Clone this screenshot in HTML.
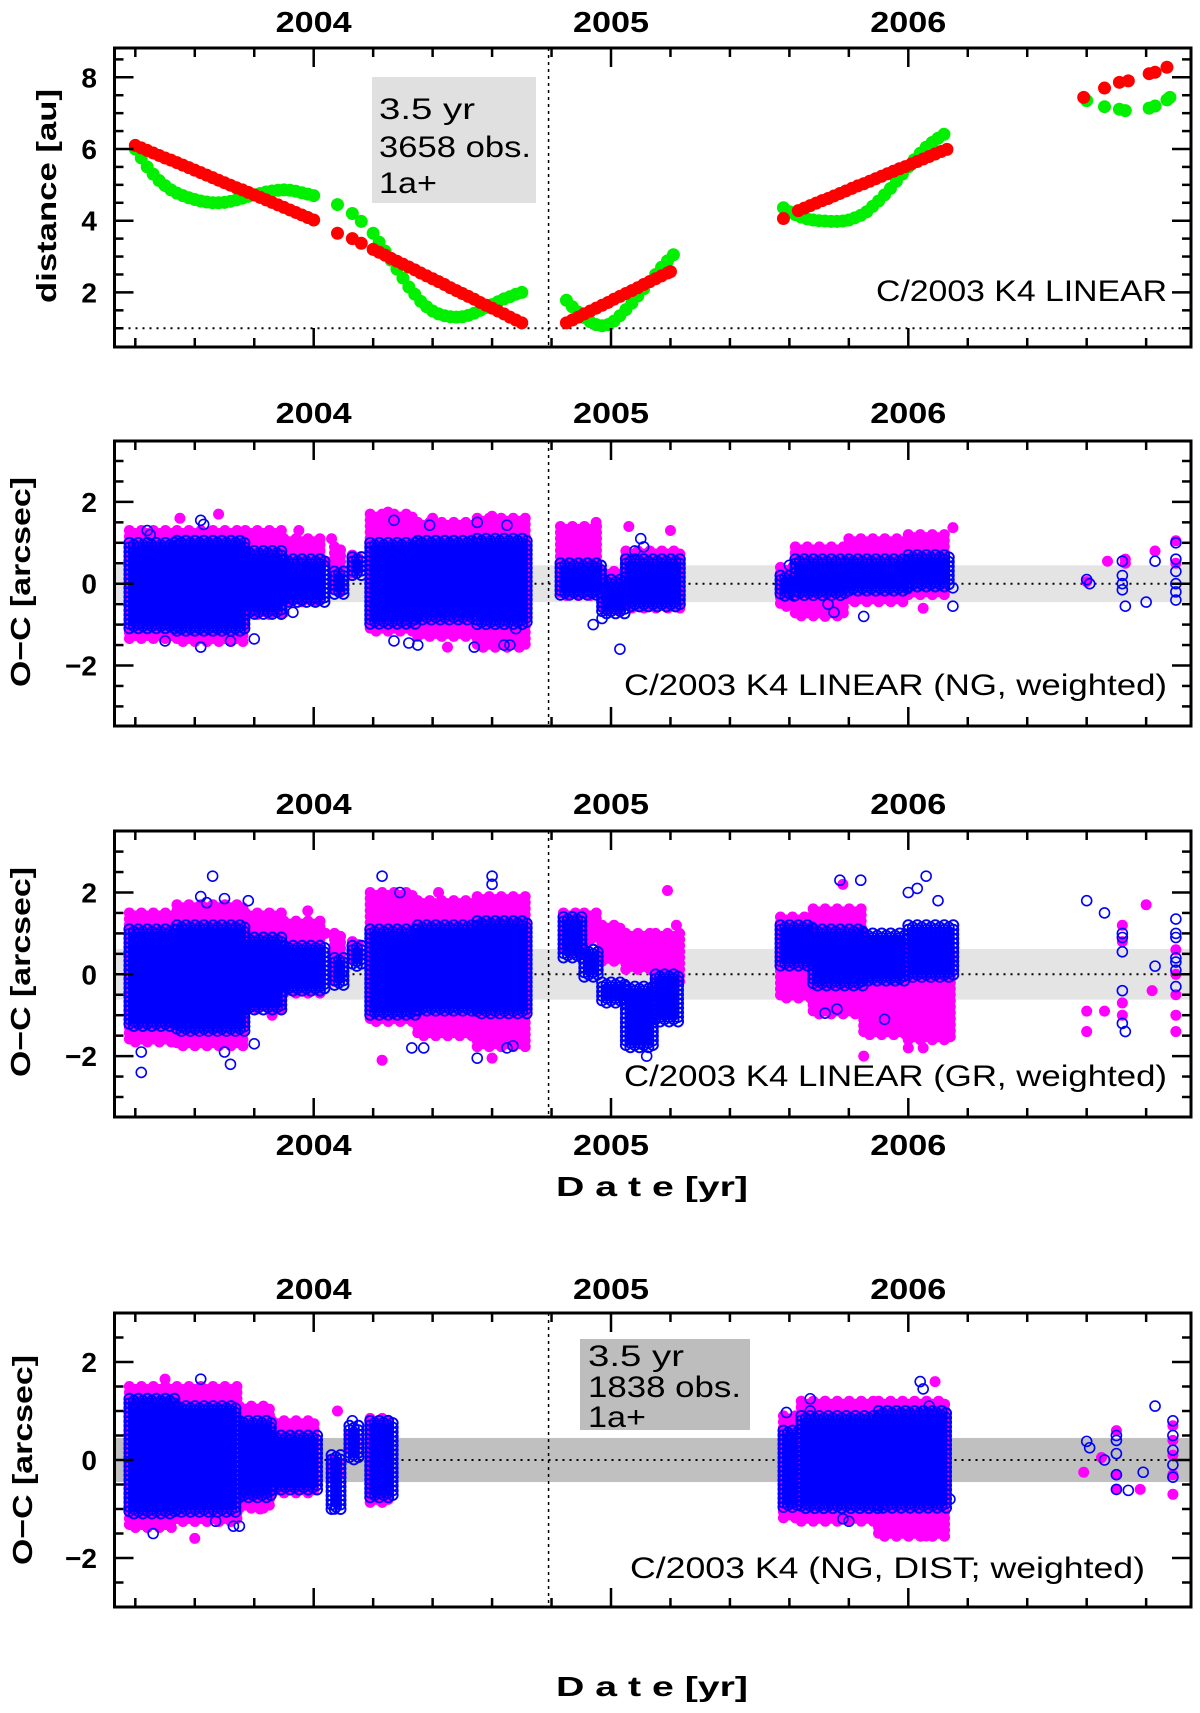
<!DOCTYPE html>
<html><head><meta charset="utf-8"><style>
html,body{margin:0;padding:0;background:#fff}
svg{display:block}
text{font-family:"Liberation Sans",sans-serif;fill:#000}
.yr{font-weight:bold;font-size:29px}
.lab{font-size:30px}
.tl{font-size:28px;font-weight:bold}
.tt{font-weight:bold;font-size:28px}
</style></head><body>
<svg id="fig" width="1200" height="1713" viewBox="0 0 1200 1713" xmlns="http://www.w3.org/2000/svg">
<g id="under"></g>
<g id="marks"></g>
<g id="axes"></g>
<g>
<text class="yr" x="313.7" y="32" text-anchor="middle" textLength="76" lengthAdjust="spacingAndGlyphs">2004</text>
<text class="yr" x="611" y="32" text-anchor="middle" textLength="76" lengthAdjust="spacingAndGlyphs">2005</text>
<text class="yr" x="908.3" y="32" text-anchor="middle" textLength="76" lengthAdjust="spacingAndGlyphs">2006</text>
<text class="yr" x="313.7" y="423" text-anchor="middle" textLength="76" lengthAdjust="spacingAndGlyphs">2004</text>
<text class="yr" x="611" y="423" text-anchor="middle" textLength="76" lengthAdjust="spacingAndGlyphs">2005</text>
<text class="yr" x="908.3" y="423" text-anchor="middle" textLength="76" lengthAdjust="spacingAndGlyphs">2006</text>
<text class="yr" x="313.7" y="814" text-anchor="middle" textLength="76" lengthAdjust="spacingAndGlyphs">2004</text>
<text class="yr" x="611" y="814" text-anchor="middle" textLength="76" lengthAdjust="spacingAndGlyphs">2005</text>
<text class="yr" x="908.3" y="814" text-anchor="middle" textLength="76" lengthAdjust="spacingAndGlyphs">2006</text>
<text class="yr" x="313.7" y="1155" text-anchor="middle" textLength="76" lengthAdjust="spacingAndGlyphs">2004</text>
<text class="yr" x="611" y="1155" text-anchor="middle" textLength="76" lengthAdjust="spacingAndGlyphs">2005</text>
<text class="yr" x="908.3" y="1155" text-anchor="middle" textLength="76" lengthAdjust="spacingAndGlyphs">2006</text>
<text class="yr" x="313.7" y="1299" text-anchor="middle" textLength="76" lengthAdjust="spacingAndGlyphs">2004</text>
<text class="yr" x="611" y="1299" text-anchor="middle" textLength="76" lengthAdjust="spacingAndGlyphs">2005</text>
<text class="yr" x="908.3" y="1299" text-anchor="middle" textLength="76" lengthAdjust="spacingAndGlyphs">2006</text>
</g>
<text class="tt" x="652" y="1196" text-anchor="middle" textLength="192" lengthAdjust="spacingAndGlyphs">D a t e [yr]</text>
<text class="tt" x="652" y="1696" text-anchor="middle" textLength="192" lengthAdjust="spacingAndGlyphs">D a t e [yr]</text>
<text class="tt" transform="translate(56,196) rotate(-90)" text-anchor="middle" textLength="214" lengthAdjust="spacingAndGlyphs">distance [au]</text>
<text class="tt" transform="translate(30,582) rotate(-90)" text-anchor="middle" textLength="210" lengthAdjust="spacingAndGlyphs">O−C [arcsec]</text>
<text class="tt" transform="translate(30,972) rotate(-90)" text-anchor="middle" textLength="210" lengthAdjust="spacingAndGlyphs">O−C [arcsec]</text>
<text class="tt" transform="translate(32,1460) rotate(-90)" text-anchor="middle" textLength="210" lengthAdjust="spacingAndGlyphs">O−C [arcsec]</text>
<text class="lab" x="1167" y="301" text-anchor="end" textLength="291" lengthAdjust="spacingAndGlyphs">C/2003 K4 LINEAR</text>
<text class="lab" x="1167" y="695" text-anchor="end" textLength="543" lengthAdjust="spacingAndGlyphs">C/2003 K4 LINEAR (NG, weighted)</text>
<text class="lab" x="1167" y="1086" text-anchor="end" textLength="543" lengthAdjust="spacingAndGlyphs">C/2003 K4 LINEAR (GR, weighted)</text>
<text class="lab" x="1145" y="1578" text-anchor="end" textLength="515" lengthAdjust="spacingAndGlyphs">C/2003 K4 (NG, DIST; weighted)</text>
<g>
<rect x="372" y="77" width="164" height="126" fill="#e0e0e0"/>
<text class="lab" x="379" y="119" textLength="96" lengthAdjust="spacingAndGlyphs">3.5 yr</text>
<text class="lab" x="379" y="157" textLength="152" lengthAdjust="spacingAndGlyphs">3658 obs.</text>
<text class="lab" x="379" y="193" textLength="58" lengthAdjust="spacingAndGlyphs">1a+</text>
</g>
<g>
<rect x="580" y="1339" width="170" height="91" fill="#bdbdbd"/>
<text class="lab" x="588" y="1366" textLength="96" lengthAdjust="spacingAndGlyphs">3.5 yr</text>
<text class="lab" x="588" y="1397" textLength="153" lengthAdjust="spacingAndGlyphs">1838 obs.</text>
<text class="lab" x="588" y="1427" textLength="58" lengthAdjust="spacingAndGlyphs">1a+</text>
</g>
</svg>
<script>
const greenT=[2003.40,2003.42,2003.44,2003.46,2003.48,2003.50,2003.52,2003.54,2003.56,2003.58,2003.60,2003.62,2003.64,2003.66,2003.68,2003.70,2003.72,2003.74,2003.76,2003.78,2003.80,2003.82,2003.84,2003.86,2003.88,2003.90,2003.92,2003.94,2003.96,2003.98,2004.00,
2004.08,2004.13,2004.16,
2004.20,2004.22,2004.24,2004.26,2004.28,2004.30,2004.32,2004.34,2004.36,2004.38,2004.40,2004.42,2004.44,2004.46,2004.48,2004.50,2004.52,2004.54,2004.56,2004.58,2004.60,2004.62,2004.64,2004.66,2004.68,2004.70,
2004.85,2004.87,2004.89,2004.91,2004.93,2004.95,2004.97,2004.99,2005.01,2005.03,2005.05,2005.07,2005.09,2005.11,2005.13,2005.15,2005.17,2005.19,2005.21,
2005.58,2005.60,2005.62,2005.64,2005.66,2005.68,2005.70,2005.72,2005.74,2005.76,2005.78,2005.80,2005.82,2005.84,2005.86,2005.88,2005.90,2005.92,2005.94,2005.96,2005.98,2006.00,2006.02,2006.04,2006.06,2006.08,2006.10,2006.12,
2006.60,2006.66,2006.71,2006.73,2006.81,2006.83,2006.87,2006.88];
const greenV=[6.0,5.75,5.5,5.3,5.12,4.98,4.86,4.77,4.7,4.64,4.59,4.55,4.52,4.5,4.5,4.51,4.54,4.58,4.63,4.68,4.72,4.76,4.8,4.83,4.85,4.86,4.85,4.82,4.78,4.74,4.7,
4.45,4.2,3.98,
3.65,3.4,3.15,2.9,2.65,2.4,2.15,1.95,1.75,1.6,1.48,1.4,1.35,1.32,1.31,1.32,1.36,1.42,1.5,1.58,1.66,1.74,1.82,1.88,1.95,2.0,
1.78,1.6,1.45,1.3,1.18,1.1,1.07,1.1,1.2,1.35,1.52,1.7,1.9,2.1,2.3,2.5,2.7,2.88,3.05,
4.36,4.25,4.17,4.1,4.05,4.02,4.0,3.99,3.98,3.98,3.99,4.02,4.08,4.15,4.25,4.4,4.55,4.72,4.9,5.1,5.3,5.5,5.7,5.88,6.05,6.18,6.3,6.41,
7.35,7.18,7.11,7.07,7.14,7.2,7.37,7.44];
const redT=[2003.40,2003.42,2003.44,2003.46,2003.48,2003.50,2003.52,2003.54,2003.56,2003.58,2003.60,2003.62,2003.64,2003.66,2003.68,2003.70,2003.72,2003.74,2003.76,2003.78,2003.80,2003.82,2003.84,2003.86,2003.88,2003.90,2003.92,2003.94,2003.96,2003.98,2004.00,
2004.08,2004.13,2004.16,
2004.20,2004.22,2004.24,2004.26,2004.28,2004.30,2004.32,2004.34,2004.36,2004.38,2004.40,2004.42,2004.44,2004.46,2004.48,2004.50,2004.52,2004.54,2004.56,2004.58,2004.60,2004.62,2004.64,2004.66,2004.68,2004.70,
2004.85,2004.87,2004.89,2004.91,2004.93,2004.95,2004.97,2004.99,2005.01,2005.03,2005.05,2005.07,2005.09,2005.11,2005.13,2005.15,2005.17,2005.19,2005.20,
2005.58,2005.63,2005.65,2005.67,2005.69,2005.71,2005.73,2005.75,2005.77,2005.79,2005.81,2005.83,2005.85,2005.87,2005.89,2005.91,2005.93,2005.95,2005.97,2005.99,2006.01,2006.03,2006.05,2006.07,2006.09,2006.11,2006.13,
2006.59,2006.66,2006.71,2006.74,2006.81,2006.83,2006.87];
const redV=[6.10,6.03,5.96,5.89,5.82,5.75,5.69,5.62,5.55,5.48,5.41,5.34,5.27,5.2,5.13,5.06,4.99,4.92,4.86,4.79,4.72,4.65,4.58,4.51,4.44,4.37,4.3,4.23,4.16,4.09,4.02,
3.65,3.5,3.37,
3.2,3.12,3.04,2.95,2.87,2.79,2.71,2.63,2.54,2.46,2.38,2.3,2.22,2.13,2.05,1.97,1.89,1.81,1.72,1.64,1.56,1.48,1.4,1.31,1.23,1.15,
1.15,1.23,1.31,1.4,1.48,1.56,1.64,1.72,1.81,1.89,1.97,2.05,2.13,2.22,2.3,2.38,2.46,2.54,2.58,
4.06,4.28,4.35,4.42,4.49,4.56,4.62,4.69,4.76,4.83,4.9,4.97,5.03,5.1,5.17,5.24,5.31,5.38,5.45,5.51,5.58,5.65,5.72,5.79,5.86,5.93,5.99,
7.44,7.7,7.86,7.9,8.1,8.14,8.28];
const p1YTicks=[2,4,6,8];

const p2BandStart=[2003.38,2003.54,2003.77,2003.90,2004.07,2004.13,2004.19,2004.35,2004.55,2004.83,2004.97,2005.05,2005.57,2005.62,2005.80,2006.00];
const p2BandEnd  =[2003.54,2003.77,2003.90,2004.04,2004.10,2004.17,2004.35,2004.55,2004.72,2004.97,2005.05,2005.24,2005.62,2005.80,2006.00,2006.14];
const p2BlueLo=[-1.1,-1.2,-0.75,-0.45,-0.25,0.2,-1.0,-0.9,-1.0,-0.3,-0.75,-0.6,-0.3,-0.3,-0.2,-0.1];
const p2BlueHi=[1.0,1.05,0.8,0.6,0.3,0.65,1.0,1.05,1.1,0.5,0.1,0.6,0.2,0.6,0.6,0.7];
const p2MagLo=[-1.4,-1.45,-0.8,-0.5,-0.2,0.2,-1.2,-1.3,-1.6,-0.3,-0.7,-0.6,-0.6,-0.8,-0.5,-0.3];
const p2MagHi=[1.3,1.3,1.3,1.1,0.9,0.7,1.7,1.5,1.6,1.4,0.3,0.8,0.4,0.9,1.1,1.2];
const p2BlueOutT=[2003.62,2003.63,2003.44,2003.45,2003.50,2003.62,2003.72,2003.80,2003.93,2004.27,2004.32,2004.35,2004.27,2004.39,2004.54,2004.64,2004.66,2004.55,2004.65,2004.68,2004.69,2004.70,2004.94,2004.97,2005.03,2005.10,2005.08,2005.11,2005.05,2005.60,2005.62,2005.75,2005.73,2005.85,2006.15,2006.15,2006.60,2006.61,2006.72,2006.72,2006.72,2006.72,2006.73,2006.80,2006.83,2006.90,2006.90,2006.90,2006.90,2006.90,2006.90];
const p2BlueOutV=[1.55,1.45,1.3,1.2,-1.4,-1.55,-1.4,-1.35,-0.7,-1.4,-1.45,-1.5,1.55,1.43,-1.55,-1.5,-1.5,1.5,1.43,-1.1,-0.4,0.0,-1.0,-0.85,-1.6,1.1,0.8,0.9,0.6,0.45,0.0,-0.7,-0.5,-0.8,-0.55,-0.1,0.1,0.0,0.55,0.2,0.0,-0.15,-0.55,-0.45,0.55,1.0,0.6,0.3,0.0,-0.2,-0.4];
const p2MagOutT=[2003.55,2003.68,2003.90,2003.95,2004.04,2004.06,2004.25,2004.40,2004.45,2004.60,2004.66,2004.95,2005.06,2005.20,2005.65,2005.72,2006.05,2006.15,2006.60,2006.67,2006.73,2006.73,2006.83,2006.90,2006.90];
const p2MagOutV=[1.6,1.7,-0.7,1.3,0.55,1.1,1.75,1.6,-1.55,1.65,-1.2,1.5,1.4,1.3,-0.7,-0.8,-0.6,1.37,0.05,0.55,0.5,0.6,0.8,1.05,0.5];

const p3BandStart=[2003.38,2003.54,2003.77,2003.90,2004.07,2004.13,2004.19,2004.35,2004.55,2004.84,2004.91,2004.97,2005.05,2005.15,2005.57,2005.68,2005.85,2006.00];
const p3BandEnd  =[2003.54,2003.77,2003.90,2004.04,2004.10,2004.17,2004.35,2004.55,2004.72,2004.91,2004.97,2005.05,2005.15,2005.24,2005.68,2005.85,2006.00,2006.16];
const p3BlueLo=[-1.3,-1.4,-0.9,-0.45,-0.3,0.2,-1.0,-0.9,-1.0,0.4,-0.1,-0.7,-1.8,-1.2,0.2,-0.3,-0.2,-0.1];
const p3BlueHi=[1.1,1.2,0.9,0.7,0.4,0.7,1.1,1.2,1.3,1.4,0.6,-0.2,-0.3,0.0,1.2,1.1,1.0,1.2];
const p3MagLo=[-1.7,-1.8,-0.9,-0.5,-0.2,0.3,-1.2,-1.5,-1.8,0.5,0.8,0.3,0.1,-0.2,-0.6,-1.0,-1.5,-1.6];
const p3MagHi=[1.5,1.7,1.5,1.3,1.0,0.8,2.0,1.8,1.9,1.5,1.5,1.2,1.0,1.0,1.4,1.6,0.8,0.6];
const p3BlueOutT=[2003.42,2003.42,2003.66,2003.62,2003.64,2003.70,2003.70,2003.72,2003.80,2003.78,2004.23,2004.29,2004.33,2004.37,2004.55,2004.60,2004.60,2004.65,2004.67,2005.12,2005.10,2005.84,2005.77,2006.06,2006.00,2006.03,2006.10,2005.92,2005.76,2005.72,2006.12,2006.60,2006.66,2006.72,2006.72,2006.72,2006.72,2006.72,2006.73,2006.83,2006.90,2006.90,2006.90,2006.90,2006.90,2006.90,2006.90];
const p3BlueOutV=[-2.4,-1.9,2.4,1.9,1.75,1.85,-1.9,-2.2,-1.7,1.8,2.4,2.0,-1.8,-1.8,-2.05,2.4,2.2,-1.8,-1.75,-2.0,-1.7,2.3,2.3,2.4,2.0,2.1,1.8,-1.1,-0.85,-0.95,0.5,1.8,1.5,1.0,0.9,0.55,-0.4,-1.2,-1.4,0.2,1.35,1.0,0.9,0.4,0.3,0.1,-0.3];
const p3MagOutT=[2004.23,2004.60,2004.42,2004.30,2005.19,2005.22,2005.78,2006.00,2006.05,2006.10,2005.85,2003.90,2003.98,2004.04,2003.86,2006.60,2006.60,2006.66,2006.72,2006.72,2006.72,2006.72,2006.80,2006.82,2006.90,2006.90,2006.90,2006.90,2006.90];
const p3MagOutV=[-2.1,-2.05,2.0,1.8,2.05,1.2,2.2,-1.8,-1.8,-1.5,-2.0,1.2,1.55,1.0,-1.0,-1.4,-0.9,-0.9,1.2,0.8,-0.7,-1.0,1.7,-0.4,0.6,0.0,-0.5,-1.0,-1.4];

const p4BandStart=[2003.38,2003.54,2003.75,2003.86,2004.06,2004.12,2004.19,2005.58,2005.64,2005.90];
const p4BandEnd  =[2003.54,2003.75,2003.86,2004.02,2004.09,2004.15,2004.27,2005.64,2005.90,2006.14];
const p4BlueLo=[-1.1,-1.1,-0.8,-0.6,-1.0,0.0,-0.8,-1.0,-1.0,-1.0];
const p4BlueHi=[1.25,1.1,0.8,0.5,0.1,0.7,0.8,0.6,0.9,1.0];
const p4MagLo=[-1.4,-1.3,-1.0,-0.7,-0.4,0.2,-0.9,-1.2,-1.3,-1.6];
const p4MagHi=[1.5,1.5,1.1,0.8,0.0,0.5,0.85,0.9,1.2,1.2];
const p4BlueOutT=[2003.62,2003.46,2003.73,2003.75,2003.67,2004.07,2004.13,2005.59,2005.67,2005.67,2006.04,2006.05,2006.07,2005.80,2005.78,2006.14,2006.60,2006.61,2006.66,2006.70,2006.70,2006.70,2006.70,2006.70,2006.74,2006.79,2006.83,2006.89,2006.89,2006.89,2006.89,2006.89];
const p4BlueOutV=[1.65,-1.5,-1.35,-1.35,-1.25,-1.0,0.8,0.97,1.25,1.0,1.6,1.45,1.1,-1.25,-1.2,-0.8,0.38,0.25,0.0,0.5,0.4,0.13,-0.3,-0.6,-0.62,-0.25,1.1,0.8,0.5,0.2,-0.1,-0.35];
const p4MagOutT=[2003.50,2003.60,2003.82,2003.94,2004.08,2005.58,2005.62,2006.09,2006.04,2006.06,2005.72,2006.00,2006.59,2006.65,2006.70,2006.70,2006.70,2006.78,2006.89,2006.89,2006.89,2006.89,2006.89];
const p4MagOutV=[1.65,-1.6,-1.0,0.6,1.0,-0.95,-1.15,1.6,-1.5,-1.55,1.2,-1.3,-0.25,0.05,0.6,-0.3,-0.6,-0.6,0.7,0.4,0.1,-0.3,-0.7];

const yearTicks=[2004,2005,2006];
const ocYTicks=[-2,0,2];

const NS='http://www.w3.org/2000/svg';
const L=114.5,R=1191;
const X=t=>313.7+(t-2004)*297.3;
const panels=[
 {top:48,bottom:347,zero:364.1,unit:35.85,min:0.48,max:8.8,ticks:p1YTicks,major:2,hline:1,band:0,bandFill:'none'},
 {top:441,bottom:726,zero:583.7,unit:40.9,min:-3.5,max:3.5,ticks:ocYTicks,major:2,hline:0,band:0.45,bandFill:'#e4e4e4'},
 {top:831,bottom:1117,zero:974.3,unit:40.9,min:-3.5,max:3.5,ticks:ocYTicks,major:2,hline:0,band:0.62,bandFill:'#e4e4e4'},
 {top:1313,bottom:1607,zero:1460,unit:49,min:-3,max:3,ticks:ocYTicks,major:2,hline:0,band:0.45,bandFill:'#c0c0c0'}
];
const under=document.getElementById('under'), marks=document.getElementById('marks'), axes=document.getElementById('axes');
function el(tag,attrs,parent){const e=document.createElementNS(NS,tag);for(const k in attrs)e.setAttribute(k,attrs[k]);parent.appendChild(e);return e;}

panels.forEach((p,pi)=>{
  const Y=v=>p.zero-v*p.unit;
  if(p.band>0){
    const b=el('rect',{x:L,y:Y(p.band),width:R-L,height:Y(-p.band)-Y(p.band),fill:p.bandFill},under);
    
    
  }
  const hl=el('line',{x1:L,x2:R,y1:Y(p.hline),y2:Y(p.hline),stroke:'#000','stroke-width':2,'stroke-dasharray':'2,5'},under);
  
  
  const vl=el('line',{x1:X(2004.79),x2:X(2004.79),y1:p.top,y2:p.bottom,stroke:'#000','stroke-width':1.5,'stroke-dasharray':'3,4'},under);
  
  
  const fr=el('rect',{x:L,y:p.top,width:R-L,height:p.bottom-p.top,fill:'none',stroke:'#000','stroke-width':3},axes);
  
  
  for(let k=0;k<=18;k++){
    const t=2003.4+k*0.2; const x=X(t); if(x<L||x>R)continue;
    const maj=Math.abs(t-Math.round(t))<1e-6; const len=maj?19:9;
    const a=el('line',{x1:x,x2:x,y1:p.top,y2:p.top+len,stroke:'#000','stroke-width':2.5},axes);
    
    
    const b=el('line',{x1:x,x2:x,y1:p.bottom,y2:p.bottom-len,stroke:'#000','stroke-width':2.5},axes);
    
    
  }
  for(let v=Math.ceil(p.min*2)/2; v<=p.max+1e-6; v+=0.5){
    const y=Y(v); if(y<p.top+2||y>p.bottom-2)continue;
    const maj=Math.abs(v/p.major-Math.round(v/p.major))<1e-6; const len=maj?19:9;
    const a=el('line',{x1:L,x2:L+len,y1:y,y2:y,stroke:'#000','stroke-width':2.5},axes);
    
    
    const b=el('line',{x1:R,x2:R-len,y1:y,y2:y,stroke:'#000','stroke-width':2.5},axes);
    
    
  }
  p.ticks.forEach(v=>{
    const tx=el('text',{x:97,y:Y(v)+10,'text-anchor':'end','class':'tl'},axes);
    tx.textContent=v<0?'−'+Math.abs(v):String(v);
    
    
  });
  p.Y=Y;
});

(function(){
  const Y=panels[0].Y;
  greenT.forEach((t,i)=>{
    const c=el('circle',{cx:X(t),cy:Y(greenV[i]),r:6.5,fill:'#00f000'},marks);
    
    
  });
  redT.forEach((t,i)=>{
    const c=el('circle',{cx:X(t),cy:Y(redV[i]),r:6.5,fill:'#ff0000'},marks);
    
    
  });
})();

function drawOC(pi,bs,be,bl,bh,ml,mh,bot,bov,mot,mov){
  const Y=panels[pi].Y;
  const gm=el('g',{},marks), gb=el('g',{},marks);
  
  
  
  
  function fill(t0,t1,lo,hi,mag){
    const x0=X(t0),x1=X(t1),y0=Y(hi),y1=Y(lo); let i=0;
    const st=mag?6:4.5;
    for(let x=x0;x<=x1+0.1;x+=st,i++){
      for(let y=y0+(i%2)*st/2;y<=y1+0.1;y+=st){
        let c;
        if(mag){c=el('circle',{cx:x,cy:y,r:5.5,fill:'#ff00ff'},gm);}
        else{c=el('circle',{cx:x,cy:y,r:5,fill:'none',stroke:'#0000ff','stroke-width':1.9},gb);}
        
        
      }
    }
  }
  bs.forEach((t,i)=>fill(t,be[i],ml[i],mh[i],true));
  mot.forEach((t,i)=>{
    const c=el('circle',{cx:X(t),cy:Y(mov[i]),r:5.5,fill:'#ff00ff'},gm);
    
    
  });
  bs.forEach((t,i)=>fill(t,be[i],bl[i],bh[i],false));
  bot.forEach((t,i)=>{
    const c=el('circle',{cx:X(t),cy:Y(bov[i]),r:5,fill:'none',stroke:'#0000ff','stroke-width':1.6},gb);
    
    
  });
}
drawOC(1,p2BandStart,p2BandEnd,p2BlueLo,p2BlueHi,p2MagLo,p2MagHi,p2BlueOutT,p2BlueOutV,p2MagOutT,p2MagOutV);
drawOC(2,p3BandStart,p3BandEnd,p3BlueLo,p3BlueHi,p3MagLo,p3MagHi,p3BlueOutT,p3BlueOutV,p3MagOutT,p3MagOutV);
drawOC(3,p4BandStart,p4BandEnd,p4BlueLo,p4BlueHi,p4MagLo,p4MagHi,p4BlueOutT,p4BlueOutV,p4MagOutT,p4MagOutV);
</script>
</body></html>
